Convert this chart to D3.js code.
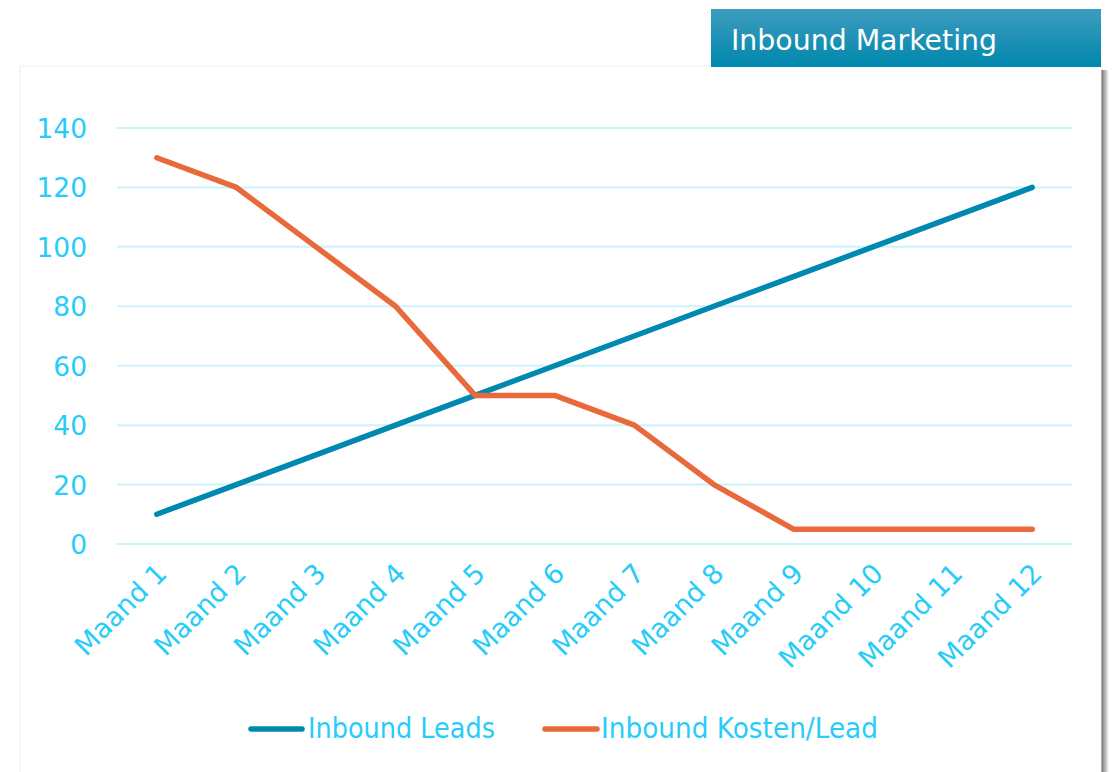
<!DOCTYPE html>
<html><head><meta charset="utf-8">
<script src="https://cdn.jsdelivr.net/npm/d3@7/dist/d3.min.js"></script>
<style>html,body{margin:0;padding:0;background:#fff;overflow:hidden}</style>
</head><body><svg id="c" width="1112" height="772"></svg>
<script>
const categories = ["Maand 1","Maand 2","Maand 3","Maand 4","Maand 5","Maand 6","Maand 7","Maand 8","Maand 9","Maand 10","Maand 11","Maand 12"];
const leads = [10,20,30,40,50,60,70,80,90,100,110,120];
const kosten = [130,120,100,80,50,50,40,20,5,5,5,5];
const yTicks = [0,20,40,60,80,100,120,140];
const seriesNames = ["Inbound Leads","Inbound Kosten/Lead"];
const title = "Inbound Marketing";

const svg = d3.select("#c");
const defs = svg.append("defs");
const g1 = defs.append("linearGradient").attr("id","tg").attr("x1",0).attr("y1",0).attr("x2",0).attr("y2",1);
g1.append("stop").attr("offset","0%").attr("stop-color","#3d9cbf");
g1.append("stop").attr("offset","100%").attr("stop-color","#0087ac");
const g2 = defs.append("linearGradient").attr("id","sh").attr("x1",0).attr("y1",0).attr("x2",1).attr("y2",0);
g2.append("stop").attr("offset","0%").attr("stop-color","#555");
g2.append("stop").attr("offset","100%").attr("stop-color","#fff");

// card shadow and card
svg.append("rect").attr("x",1100).attr("y",70).attr("width",9).attr("height",702).attr("fill","url(#sh)");
svg.append("rect").attr("x",20).attr("y",66).attr("width",1081).attr("height",720).attr("fill","#fff").attr("stroke","#f0f0f0");

// title box
svg.append("rect").attr("x",711).attr("y",9).attr("width",390).attr("height",58).attr("fill","url(#tg)");
svg.append("text").attr("x",731).attr("y",50).attr("fill","#fff").attr("font-family","DejaVu Sans").attr("font-size",29)
  .attr("textLength",266).attr("lengthAdjust","spacingAndGlyphs").text(title);

const x = d3.scalePoint().domain(categories).range([117,1072]).padding(0.5);
const y = d3.scaleLinear().domain([0,140]).range([544,128]);
const cyan = "#27ccf8";

// grid
svg.append("g").selectAll("line").data(yTicks).join("line")
  .attr("x1",117).attr("x2",1072).attr("y1",d=>y(d)).attr("y2",d=>y(d))
  .attr("stroke","#ccf2fc").attr("stroke-width",2);

// y axis labels
const yAxis = svg.append("g").attr("transform","translate(87,0)")
  .call(d3.axisLeft(y).tickValues(yTicks).tickSize(0).tickPadding(0));
yAxis.select(".domain").remove();
yAxis.selectAll("text").attr("fill",cyan).attr("font-family","DejaVu Sans").attr("font-size",26.5).attr("dy","0.36em")
  .attr("transform","scale(1,1.05)").attr("transform",null);

// x axis labels
const xAxis = svg.append("g").attr("transform","translate(0,544)")
  .call(d3.axisBottom(x).tickSize(0).tickPadding(0));
xAxis.select(".domain").remove();
xAxis.selectAll("text").attr("fill",cyan).attr("font-family","DejaVu Sans").attr("font-size",27)
  .attr("text-anchor","end").attr("dy",0)
  .attr("transform","translate(11,31) rotate(-45)");

// lines
const line = d3.line().x((d,i)=>x(categories[i])).y(d=>y(d));
svg.append("path").datum(leads).attr("d",line).attr("fill","none").attr("stroke","#0089b0").attr("stroke-width",5.5).attr("stroke-linejoin","round").attr("stroke-linecap","round");
svg.append("path").datum(kosten).attr("d",line).attr("fill","none").attr("stroke","#e8693a").attr("stroke-width",5.5).attr("stroke-linejoin","round").attr("stroke-linecap","round");

// legend
const leg = [{x1:251,x2:302,tx:308,tw:187,c:"#0089b0"},{x1:545,x2:597,tx:601,tw:277,c:"#e8693a"}];
leg.forEach((l,i)=>{
  svg.append("line").attr("x1",l.x1).attr("x2",l.x2).attr("y1",729).attr("y2",729).attr("stroke",l.c).attr("stroke-width",5.5).attr("stroke-linecap","round");
  svg.append("text").attr("x",l.tx).attr("y",738).attr("fill",cyan).attr("font-family","DejaVu Sans").attr("font-size",28)
    .attr("textLength",l.tw).attr("lengthAdjust","spacingAndGlyphs").text(seriesNames[i]);
});
</script></body></html>
